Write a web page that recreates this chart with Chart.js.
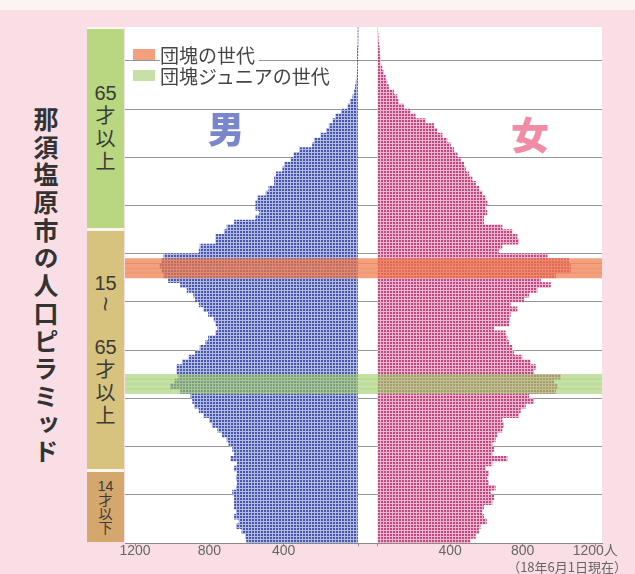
<!DOCTYPE html>
<html lang="ja">
<head>
<meta charset="utf-8">
<title>那須塩原市の人口ピラミッド</title>
<script src="https://cdn.jsdelivr.net/npm/chart.js@4.4.1/dist/chart.umd.min.js"></script>
<style>
    html, body { margin: 0; padding: 0; }
    body {
        width: 635px; height: 574px; overflow: hidden;
        background: #f9dfe5;
        font-family: 'Noto Sans CJK JP', sans-serif;
    }
    #page { position: relative; width: 635px; height: 574px; }
    #strip { position: absolute; left: 0; top: 0; width: 635px; height: 10px; background: #fcf3f3; }
    #wrap { position: absolute; left: 0; top: 0; width: 635px; height: 574px; }
    #title {
        position: absolute; left: 33px; top: 107px;
        writing-mode: vertical-rl;
        font-size: 25px; font-weight: 700; line-height: 1;
        letter-spacing: 2.7px; color: #333;
    }
    #column { position: absolute; left: 87px; top: 27px; width: 37px; height: 513px; background: #fbf6f0; }
    .grp {
        position: absolute; left: 87px; width: 37px;
        display: flex; flex-direction: column; justify-content: center; align-items: center;
        text-align: center; color: #3a3a3a;
        font-family: 'Liberation Sans', 'Noto Sans CJK JP', sans-serif;
        font-size: 20px; line-height: 23px;
    }
    .grp.small { font-size: 14px; line-height: 14px; }
    .wave { display: inline-block; transform: rotate(90deg) scaleX(1.2); font-size: 22px; line-height: 18px; }
    #legend { position: absolute; left: 133px; top: 44px; }
    .row { display: flex; align-items: center; height: 21px; }
    .sw { width: 22px; height: 11px; margin-right: 5px; }
    .row span { background: #fff; color: #444; font-size: 19px; line-height: 21px; padding-right: 4px; }
    .sex { position: absolute; font-weight: 900; line-height: 1; }
    #male { left: 208px; top: 109px; font-size: 36px; color: #7a86cc; }
    #female { left: 511px; top: 114px; font-size: 38px; color: #f08ca6; }
    #note { position: absolute; right: 8px; top: 557px; font-size: 13px; color: #666; }
</style>
</head>
<body>
<div id="page">
    <div id="strip"></div>
    <div id="title">那須塩原市の人口ピラミッド</div>
    <div id="column"></div>
    <div class="grp" id="grp0" style="background:#b9d680">65<br>才<br>以<br>上</div>
    <div class="grp" id="grp1" style="background:#d7c27e">15<br><span class="wave">~</span><br>65<br>才<br>以<br>上</div>
    <div class="grp small" id="grp2" style="background:#d4a76d">14<br>才<br>以<br>下</div>
    <div id="wrap"><canvas id="pyramid"></canvas></div>
    <div id="legend">
        <div class="row"><div class="sw" style="background:#f2a07e"></div><span>団塊の世代</span></div>
        <div class="row"><div class="sw" style="background:#c6e0a6"></div><span>団塊ジュニアの世代</span></div>
    </div>
    <div class="sex" id="male">男</div>
    <div class="sex" id="female">女</div>
    <div id="note">（18年6月1日現在）</div>
</div>
<script>
/**
 * Ages (categories, 0 - 106)
 */
const ages = Array.from({ length: 107 }, (_, i) => String(i));

/**
 * Male by age
 */
const male = [
    600, 605, 625, 655, 640, 665, 655, 665, 665, 665,
    675, 655, 650, 655, 650, 665, 650, 685, 665, 675,
    695, 705, 730, 755, 785, 800, 830, 855, 880, 890,
    900, 955, 1010, 985, 965, 975, 975, 945, 910, 875,
    850, 820, 805, 765, 755, 765, 775, 805, 830, 855,
    875, 885, 920, 955, 1020, 1045, 1055, 1065, 1055, 1045,
    855, 850, 765, 765, 720, 705, 665, 550, 530, 550,
    550, 540, 495, 480, 450, 450, 440, 405, 395, 360,
    345, 315, 245, 235, 200, 170, 155, 135, 120, 90,
    55, 42, 28, 19, 14, 10, 6, 4, 3, 2,
    2, 1, 1, 0, 0, 0, 0
];

/**
 * Female by age
 */
const female = [
    511, 539, 557, 566, 600, 585, 575, 585, 631, 640,
    622, 649, 612, 603, 612, 594, 631, 714, 631, 640,
    631, 649, 658, 686, 695, 686, 778, 787, 815, 861,
    833, 981, 990, 971, 1008, 861, 870, 842, 796, 750,
    741, 723, 714, 704, 640, 723, 728, 732, 769, 732,
    806, 833, 879, 953, 898, 981, 1063, 1063, 1054, 935,
    667, 686, 778, 769, 741, 686, 585, 585, 603, 594,
    604, 595, 577, 558, 540, 521, 503, 485, 475, 457,
    439, 420, 402, 383, 356, 328, 310, 264, 208, 181,
    144, 116, 107, 89, 61, 52, 43, 33, 24, 15,
    15, 11, 10, 6, 4, 2, 0
];

/**
 * Generations
 */
const boomerAges = [55, 56, 57, 58];
const juniorAges = [31, 32, 33, 34];

/**
 * Age groups
 */
const groupFrom = [65, 15, 0];
const groupTo = [106, 64, 14];

/**
 * Ticks
 */
const tickValues = [0, 400, 800, 1200];

/**
 * Dot pattern
 */
function dots(dot, gap) {
    const c = document.createElement('canvas');
    c.width = 3;
    c.height = 3;
    const g = c.getContext('2d');
    g.fillStyle = gap;
    g.fillRect(0, 0, 3, 3);
    g.fillStyle = dot;
    g.fillRect(0, 0, 2, 2);
    return g.createPattern(c, 'repeat');
}

/**
 * Band rows
 */
function band(list) {
    return ages.map((a, i) => list.includes(i) ? [0, 1] : null);
}

/**
 * Panel and age groups
 */
const panel = {
    id: 'panel',
    beforeDraw(chart) {
        const { ctx, chartArea } = chart;
        ctx.save();
        ctx.fillStyle = '#ffffff';
        ctx.fillRect(chartArea.left, chartArea.top, chartArea.width, chartArea.height);
        ctx.restore();
    },
    afterDraw(chart) {
        const y = chart.scales.y;
        const row = Math.abs(y.getPixelForValue(0) - y.getPixelForValue(1));
        groupFrom.forEach((from, i) => {
            const top = y.getPixelForValue(groupTo[i]) - row / 2;
            const bottom = y.getPixelForValue(from) + row / 2;
            const el = document.getElementById('grp' + i);
            el.style.top = (top + 1.5) + 'px';
            el.style.height = (bottom - top - 3) + 'px';
        });
    }
};

/**
 * Tick font
 */
const tickFont = { family: "'Liberation Sans', 'Noto Sans CJK JP', sans-serif", size: 14 };

/**
 * Chart
 */
new Chart(document.getElementById('pyramid'), {
    type: 'bar',
    data: {
        labels: ages,
        datasets: [
            {
                label: '団塊の世代',
                data: band(boomerAges),
                xAxisID: 'xb',
                backgroundColor: 'rgba(238, 119, 71, 0.7)',
                order: 0
            },
            {
                label: '団塊ジュニアの世代',
                data: band(juniorAges),
                xAxisID: 'xb',
                backgroundColor: 'rgba(158, 203, 105, 0.6)',
                order: 0
            },
            {
                label: '男',
                data: male,
                xAxisID: 'xm',
                backgroundColor: dots('#4656a8', '#b3bbe4'),
                order: 1
            },
            {
                label: '女',
                data: female,
                xAxisID: 'xf',
                backgroundColor: dots('#c04880', '#ecb6cf'),
                order: 1
            }
        ]
    },
    options: {
        indexAxis: 'y',
        responsive: true,
        maintainAspectRatio: false,
        animation: false,
        layout: { padding: { left: 125, right: 33, top: 27, bottom: 17 } },
        datasets: {
            bar: { grouped: false, barPercentage: 1, categoryPercentage: 1, borderWidth: 0 }
        },
        plugins: {
            legend: { display: false },
            tooltip: { enabled: false }
        },
        scales: {
            y: {
                reverse: true,
                ticks: { display: false, autoSkip: false },
                border: { display: false },
                grid: {
                    drawTicks: false,
                    color: (c) => c.index > 0 && c.index % 10 === 0 ? '#959595' : 'rgba(0,0,0,0)'
                }
            },
            xm: {
                type: 'linear',
                position: 'bottom',
                stack: 'sex',
                stackWeight: 242.5,
                weight: 1,
                reverse: true,
                min: -51,
                max: 1254,
                afterBuildTicks: (axis) => { axis.ticks = tickValues.map(v => ({ value: v })); },
                ticks: {
                    color: '#666',
                    font: tickFont,
                    padding: -3,
                    maxRotation: 0,
                    autoSkip: false,
                    callback: (v) => v === 0 ? '' : String(v)
                },
                border: { color: '#8a8a8a' },
                grid: { drawOnChartArea: false, tickLength: 3, color: '#8a8a8a' }
            },
            xf: {
                type: 'linear',
                position: 'bottom',
                stack: 'sex',
                stackWeight: 234.5,
                weight: 2,
                min: -55,
                max: 1237,
                afterBuildTicks: (axis) => { axis.ticks = tickValues.map(v => ({ value: v })); },
                ticks: {
                    color: '#666',
                    font: tickFont,
                    padding: -3,
                    maxRotation: 0,
                    autoSkip: false,
                    callback: (v) => v === 0 ? '' : (v === tickValues[tickValues.length - 1] ? v + '人' : String(v))
                },
                border: { color: '#8a8a8a' },
                grid: { drawOnChartArea: false, tickLength: 3, color: '#8a8a8a' }
            },
            xb: {
                type: 'linear',
                display: false,
                weight: 3,
                min: 0,
                max: 1
            }
        }
    },
    plugins: [panel]
});
</script>
</body>
</html>
